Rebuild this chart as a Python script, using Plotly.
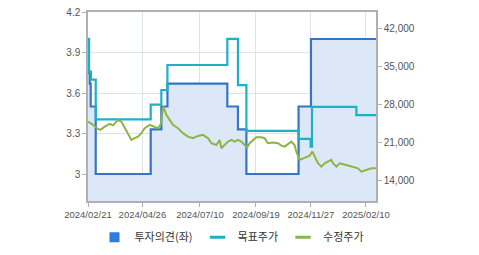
import plotly.graph_objects as go

# x positions are trading-day indices
tick_idx = [0, 46.5, 95.7, 143.6, 190.6, 237.6]
tick_labels = ["2024/02/21", "2024/04/26", "2024/07/10", "2024/09/19", "2024/11/27", "2025/02/10"]
x_end = 246.2

# 투자의견 (left axis), step changes
op_idx = [0, 0.9, 1.5, 2.3, 6.6, 53.6, 62.7, 67.9, 119.1, 128.2, 135.4, 180.0, 190.6, x_end]
op_val = [4.0, 3.75, 3.67, 3.5, 3.0, 3.33, 3.5, 3.67, 3.5, 3.33, 3.0, 3.5, 4.0, 4.0]

# 목표주가 (right axis), step changes
tp_idx = [0, 0.8, 2.5, 6.6, 53.6, 62.7, 67.9, 119.1, 128.2, 135.4, 180.0, 190.3, 191.5, 229.4, x_end]
tp_val = [40000, 34000, 32500, 25200, 27900, 30600, 35200, 40000, 31500, 23100, 21600, 20200, 27500, 26000, 26000]

# 수정주가 (right axis)
px_idx = [0, 4.3, 8, 10.5, 14.3, 18.5, 21.5, 23.8, 25.6, 28.5, 31.4, 34.2, 37.1, 39.9, 42.7, 45.6,
          48.5, 52.7, 57, 59.8, 62.7, 64.1, 65.5, 67, 69.8, 72.6, 76.9, 81.2, 85.5, 89.7, 94,
          98.3, 102.6, 105.5, 109.7, 112.6, 114, 116.8, 119.7, 122.6, 125.4, 128.2, 131.1, 133.9,
          135.9, 138.2, 141, 143.9, 148.2, 151, 153.8, 158.1, 162.4, 165.3, 168.1, 170.9, 173.8,
          176.6, 178.1, 180.9, 185.2, 189.5, 191.8, 193.8, 196.6, 199.5, 202.3, 208, 209.4, 212.3,
          215.1, 220.8, 226.5, 230.8, 233.7, 237.9, 242.2, x_end]
px_val = [24800, 24200, 23500, 23270, 23875, 24372, 24100, 24700, 25110, 24800, 23580, 22660,
          21425, 21740, 22030, 22660, 23580, 24190, 23880, 23580, 24500, 27560, 26900, 26030,
          25110, 24190, 23580, 22660, 22030, 21740, 22160, 22350, 21740, 20820, 20500, 21420,
          19900, 20500, 21110, 21420, 21110, 21420, 21110, 20500, 20010, 20820, 21420, 21920,
          21920, 21740, 20820, 20930, 20820, 20380, 20190, 20690, 21110, 20500, 19270, 17740,
          18170, 18530, 19270, 18350, 17130, 16510, 17130, 17740, 17130, 16510, 17130, 16820,
          16510, 16210, 15590, 15900, 16210, 16210]

C_OP, C_TP, C_PX = "#3574c6", "#1db1c9", "#8db545"

fig = go.Figure()
fig.add_trace(go.Scatter(
    x=op_idx, y=op_val, name="투자의견(좌)", mode="lines", line_shape="hv",
    line=dict(color=C_OP, width=2.2), fill="tozeroy", fillcolor="#dce8f8",
    yaxis="y", showlegend=False))
fig.add_trace(go.Scatter(
    x=tp_idx, y=tp_val, name="목표주가", mode="lines", line_shape="hv",
    line=dict(color=C_TP, width=2.2), yaxis="y2", showlegend=False))
fig.add_trace(go.Scatter(
    x=px_idx, y=px_val, name="수정주가", mode="lines",
    line=dict(color=C_PX, width=2), yaxis="y2", showlegend=False))

# legend-only entries (compact glyphs like the original legend)
fig.add_trace(go.Scatter(x=[None], y=[None], name="투자의견(좌)", mode="markers",
                         marker=dict(symbol="square", size=10, color="#2f7be0")))
fig.add_trace(go.Scatter(x=[None], y=[None], name="목표주가", mode="markers",
                         marker=dict(symbol="line-ew", size=11, line=dict(color=C_TP, width=3))))
fig.add_trace(go.Scatter(x=[None], y=[None], name="수정주가", mode="markers",
                         marker=dict(symbol="line-ew", size=11, line=dict(color=C_PX, width=3))))

axis_font = dict(family="Liberation Sans", size=10, color="#555555")
xfont = dict(family="Liberation Sans", size=9.5, color="#555555")
fig.update_layout(
    width=479, height=255, margin=dict(l=88, r=103, t=12, b=54, autoexpand=False),
    paper_bgcolor="white", plot_bgcolor="white",
    xaxis=dict(range=[0, x_end], tickvals=tick_idx, ticktext=tick_labels, tickfont=xfont,
               tickangle=0, automargin=False,
               showgrid=True, gridcolor="#dde3ea", gridwidth=1, ticks="outside", ticklen=4,
               tickcolor="#b0b0b0", showline=True, linecolor="#b0b0b0", linewidth=1.5,
               mirror=True, zeroline=False),
    yaxis=dict(range=[2.8, 4.2], tickvals=[3, 3.3, 3.6, 3.9, 4.2], automargin=False,
               ticktext=["3", "3.3", "3.6", "3.9", "4.2"], tickfont=axis_font,
               showgrid=True, gridcolor="#dde3ea", ticks="outside", ticklen=4,
               tickcolor="#b0b0b0", showline=True, linecolor="#b0b0b0", linewidth=1.5,
               zeroline=False),
    yaxis2=dict(range=[10190, 44950], overlaying="y", side="right", automargin=False,
                tickvals=[14000, 21000, 28000, 35000, 42000], tickformat=",d",
                tickfont=axis_font, showgrid=False, ticks="outside", ticklen=4,
                tickcolor="#b0b0b0", showline=True, linecolor="#b0b0b0", linewidth=1.5,
                zeroline=False),
    legend=dict(orientation="h", xref="paper", x=0.5, xanchor="center",
                yref="container", y=0.07, yanchor="middle",
                font=dict(family="Noto Sans CJK KR", size=11, color="#333333"),
                itemwidth=30, tracegroupgap=0, traceorder="normal"),
    showlegend=True,
)
fig.write_html("out.html")
